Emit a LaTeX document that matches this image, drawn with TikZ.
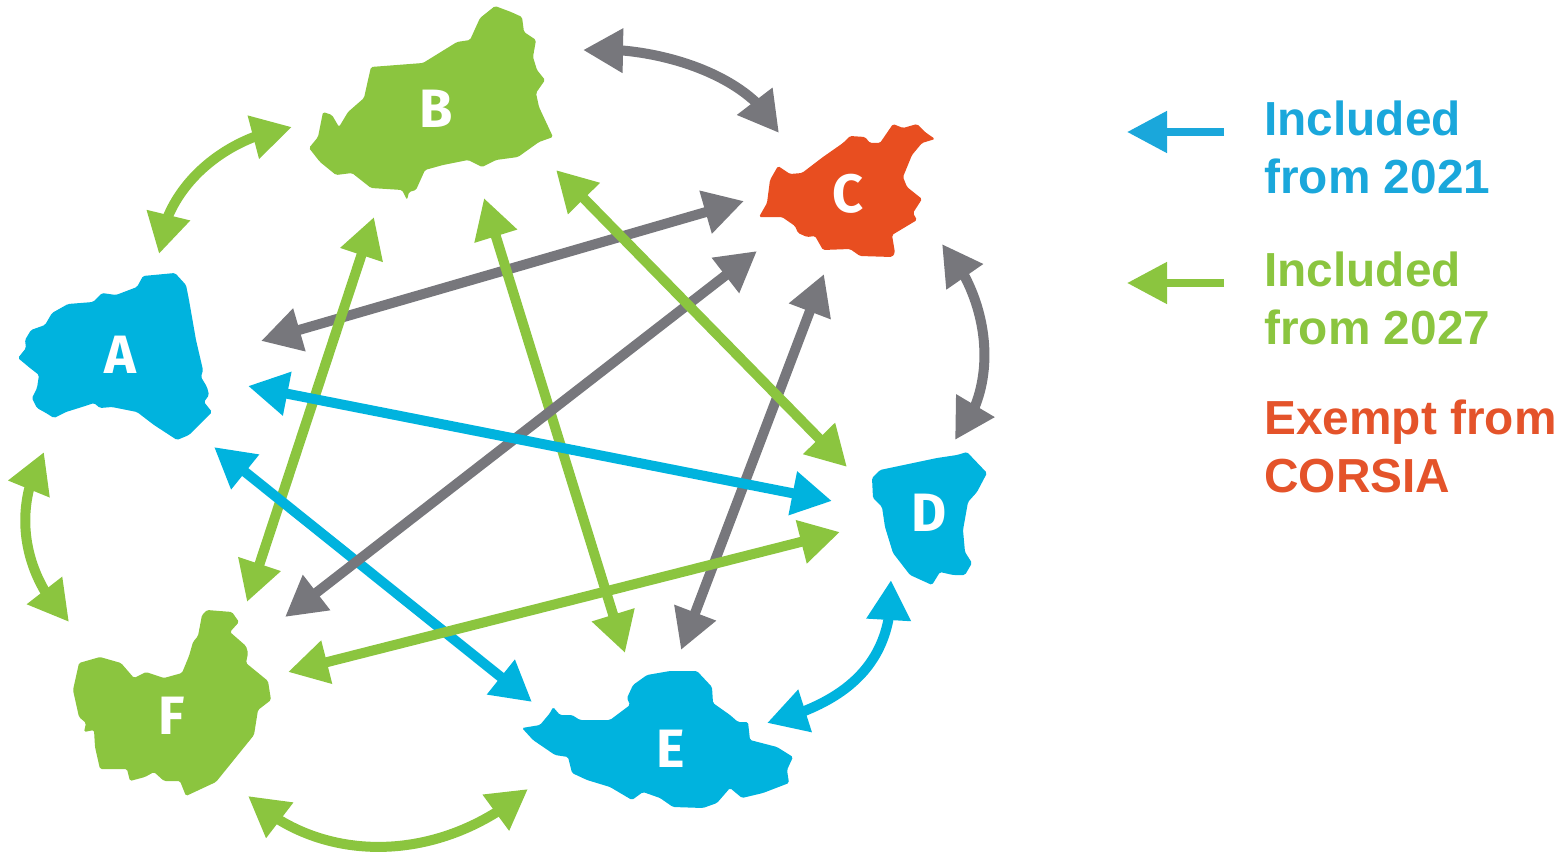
\documentclass[tikz,border=0pt]{standalone}
\usepackage{fontspec}
\usetikzlibrary{positioning,arrows.meta,bending}
\setmainfont{Liberation Sans}
\newfontfamily\letterfont{Fira Sans}
\definecolor{mapblue}{HTML}{00B3DE}
\definecolor{mapgreen}{HTML}{8BC53F}
\definecolor{mapred}{HTML}{E84E20}
\definecolor{linkgray}{HTML}{77777C}
\definecolor{keyblue}{HTML}{1AA7DB}
\definecolor{keyred}{HTML}{E4532A}
\tikzset{
    twoway/.style={line width=5pt, {Triangle[length=20pt,width=21pt]}-{Triangle[length=20pt,width=21pt]}},
    twowaycurve/.style={twoway, line width=5pt},
    oneway/.style={line width=4pt, -{Triangle[length=20pt,width=20pt]}},
    region/.style={rounded corners=0.8pt},
    letter/.style={text=white, font=\letterfont\bfseries\fontsize{27}{27}\selectfont, inner sep=0pt},
    keytext/.style={anchor=north west, align=left, inner sep=0pt, font=\bfseries\fontsize{23.9}{29}\selectfont}
}
\begin{document}
\begin{tikzpicture}[x=0.5pt,y=-0.5pt]
    \useasboundingbox (0,0) rectangle (1564,856);

    \fill[mapblue,region] (143,276) -- (175,273) -- (186,285) -- (189,300) -- (196,340) -- (203,370) -- (201,377) -- (207,387) -- (209,395) -- (204,402) -- (212,412) -- (189,435) -- (177,440) -- (154,425) -- (137,412) -- (112,407) -- (100,408) -- (94,403) -- (82,407) -- (66,412) -- (54,418) -- (46,413) -- (37,408) -- (32,398) -- (37,388) -- (39,375) -- (30,368) -- (18,358) -- (26,348) -- (25,340) -- (31,330) -- (45,325) -- (52,313) -- (68,304) -- (93,302) -- (102,293) -- (116,295) -- (137,287) -- cycle;
    \fill[mapgreen,region] (495,6) -- (511,12) -- (522,17) -- (524,32) -- (536,40) -- (533,57) -- (537,70) -- (545,80) -- (536,93) -- (539,107) -- (553,137) -- (539,142) -- (518,157) -- (496,160) -- (482,167) -- (468,160) -- (443,165) -- (425,170) -- (416,190) -- (409,192) -- (407,200) -- (402,190) -- (371,188) -- (352,173) -- (336,175) -- (320,162) -- (309,148) -- (318,137) -- (323,112) -- (332,115) -- (339,127) -- (348,112) -- (364,98) -- (368,80) -- (371,67) -- (423,63) -- (457,42) -- (470,40) -- (480,18) -- cycle;
    \fill[mapred,region] (893,124) -- (903,128) -- (917,124) -- (925,132) -- (935,139) -- (922,143) -- (912,155) -- (903,177) -- (907,187) -- (922,199) -- (913,213) -- (917,220) -- (892,235) -- (895,253) -- (892,257) -- (860,256) -- (850,249) -- (823,250) -- (815,236) -- (807,237) -- (798,233) -- (795,226) -- (782,217) -- (759,217) -- (767,203) -- (770,180) -- (778,166) -- (790,174) -- (802,173) -- (823,157) -- (843,143) -- (850,136) -- (865,137) -- (870,143) -- (880,143) -- cycle;
    \fill[mapblue,region] (967,452) -- (987,473) -- (977,492) -- (968,502) -- (963,530) -- (965,552) -- (972,563) -- (965,575) -- (953,575) -- (940,572) -- (932,585) -- (910,575) -- (893,553) -- (885,527) -- (882,507) -- (873,498) -- (872,478) -- (880,470) -- (937,458) -- (957,455) -- cycle;
    \fill[mapblue,region] (697,671) -- (712,687) -- (713,703) -- (730,715) -- (738,722) -- (748,722) -- (750,740) -- (777,747) -- (793,757) -- (787,770) -- (789,783) -- (763,793) -- (742,798) -- (730,788) -- (717,803) -- (703,808) -- (673,807) -- (660,798) -- (643,792) -- (632,800) -- (610,787) -- (587,780) -- (572,773) -- (568,757) -- (555,755) -- (533,740) -- (522,728) -- (540,725) -- (550,713) -- (553,707) -- (560,715) -- (572,715) -- (580,720) -- (610,720) -- (630,705) -- (627,698) -- (633,685) -- (647,675) -- (670,671) -- cycle;
    \fill[mapgreen,region] (207,610) -- (232,612) -- (239,622) -- (230,632) -- (246,646) -- (248,653) -- (246,663) -- (268,681) -- (271,700) -- (258,710) -- (254,735) -- (216,782) -- (186,796) -- (180,781) -- (164,781) -- (154,772) -- (145,777) -- (130,781) -- (127,769) -- (100,769) -- (95,747) -- (94,730) -- (84,732) -- (86,723) -- (79,717) -- (73,690) -- (79,663) -- (100,657) -- (121,663) -- (134,678) -- (146,672) -- (164,678) -- (182,673) -- (189,656) -- (193,642) -- (198,636) -- (202,615) -- cycle;

    \node[letter] (a) at (120,355) {A};
    \node[letter] (b) at (436,109) {B};
    \node[letter] (c) at (848,194) {C};
    \node[letter] (d) at (929,513) {D};
    \node[letter] (e) at (671,749) {E};
    \node[letter] (f) at (172,716) {F};

    \coordinate (ab-a) at (159,254);
    \coordinate (ab-b) at (292,127);
    \coordinate (bc-b) at (583,50);
    \coordinate (bc-c) at (779,133);
    \coordinate (cd-c) at (942,244);
    \coordinate (cd-d) at (955,440);
    \coordinate (de-d) at (891,580);
    \coordinate (de-e) at (767,723);
    \coordinate (ef-e) at (528,789);
    \coordinate (ef-f) at (248,796);
    \coordinate (fa-f) at (69,622);
    \coordinate (fa-a) at (44,452);
    \coordinate (ac-a) at (261,341);
    \coordinate (ac-c) at (744,201);
    \coordinate (cf-c) at (757,251);
    \coordinate (cf-f) at (285,617);
    \coordinate (ce-c) at (824,274);
    \coordinate (ce-e) at (681,650);
    \coordinate (bf-b) at (374,217);
    \coordinate (bf-f) at (247,602);
    \coordinate (be-b) at (484,198);
    \coordinate (be-e) at (625,653);
    \coordinate (bd-b) at (556,170);
    \coordinate (bd-d) at (847,467);
    \coordinate (ad-a) at (248,386);
    \coordinate (ad-d) at (832,501);
    \coordinate (ae-a) at (214,447);
    \coordinate (ae-e) at (532,702);
    \coordinate (df-d) at (840,532);
    \coordinate (df-f) at (288,672);

    \draw[twowaycurve,mapgreen] (ab-b) .. controls (222,137) and (163,190) .. (ab-a);
    \draw[twowaycurve,linkgray] (bc-b) .. controls (650,45) and (750,72) .. (bc-c);
    \draw[twowaycurve,linkgray] (cd-c) .. controls (985,290) and (1005,380) .. (cd-d);
    \draw[twowaycurve,mapblue] (de-d) .. controls (895,660) and (850,702) .. (de-e);
    \draw[twowaycurve,mapgreen] (ef-f) .. controls (320,865) and (440,865) .. (ef-e);
    \draw[twowaycurve,mapgreen] (fa-a) .. controls (8,515) and (28,582) .. (fa-f);

    \draw[twoway,linkgray] (ce-c) -- (ce-e);
    \draw[twoway,linkgray] (ac-a) -- (ac-c);
    \draw[twoway,mapgreen] (bf-b) -- (bf-f);
    \draw[twoway,mapgreen] (be-b) -- (be-e);
    \draw[twoway,mapblue] (ae-a) -- (ae-e);
    \draw[twoway,linkgray] (cf-c) -- (cf-f);
    \draw[twoway,mapblue] (ad-a) -- (ad-d);
    \draw[twoway,mapgreen] (df-d) -- (df-f);
    \draw[twoway,mapgreen] (bd-b) -- (bd-d);

    \coordinate (key2021-start) at (1224,132);
    \coordinate (key2021-end) at (1127,132);
    \coordinate (key2027-start) at (1224,283);
    \coordinate (key2027-end) at (1127,283);
    \draw[oneway,keyblue] (key2021-start) -- (key2021-end);
    \draw[oneway,mapgreen] (key2027-start) -- (key2027-end);

    \node[keytext,text=keyblue] (key2021) at (1264,100) {Included\\from 2021};
    \node[keytext,text=mapgreen] (key2027) at (1264,251) {Included\\from 2027};
    \node[keytext,text=keyred] (keyexempt) at (1264,399) {Exempt from\\CORSIA};
\end{tikzpicture}
\end{document}
